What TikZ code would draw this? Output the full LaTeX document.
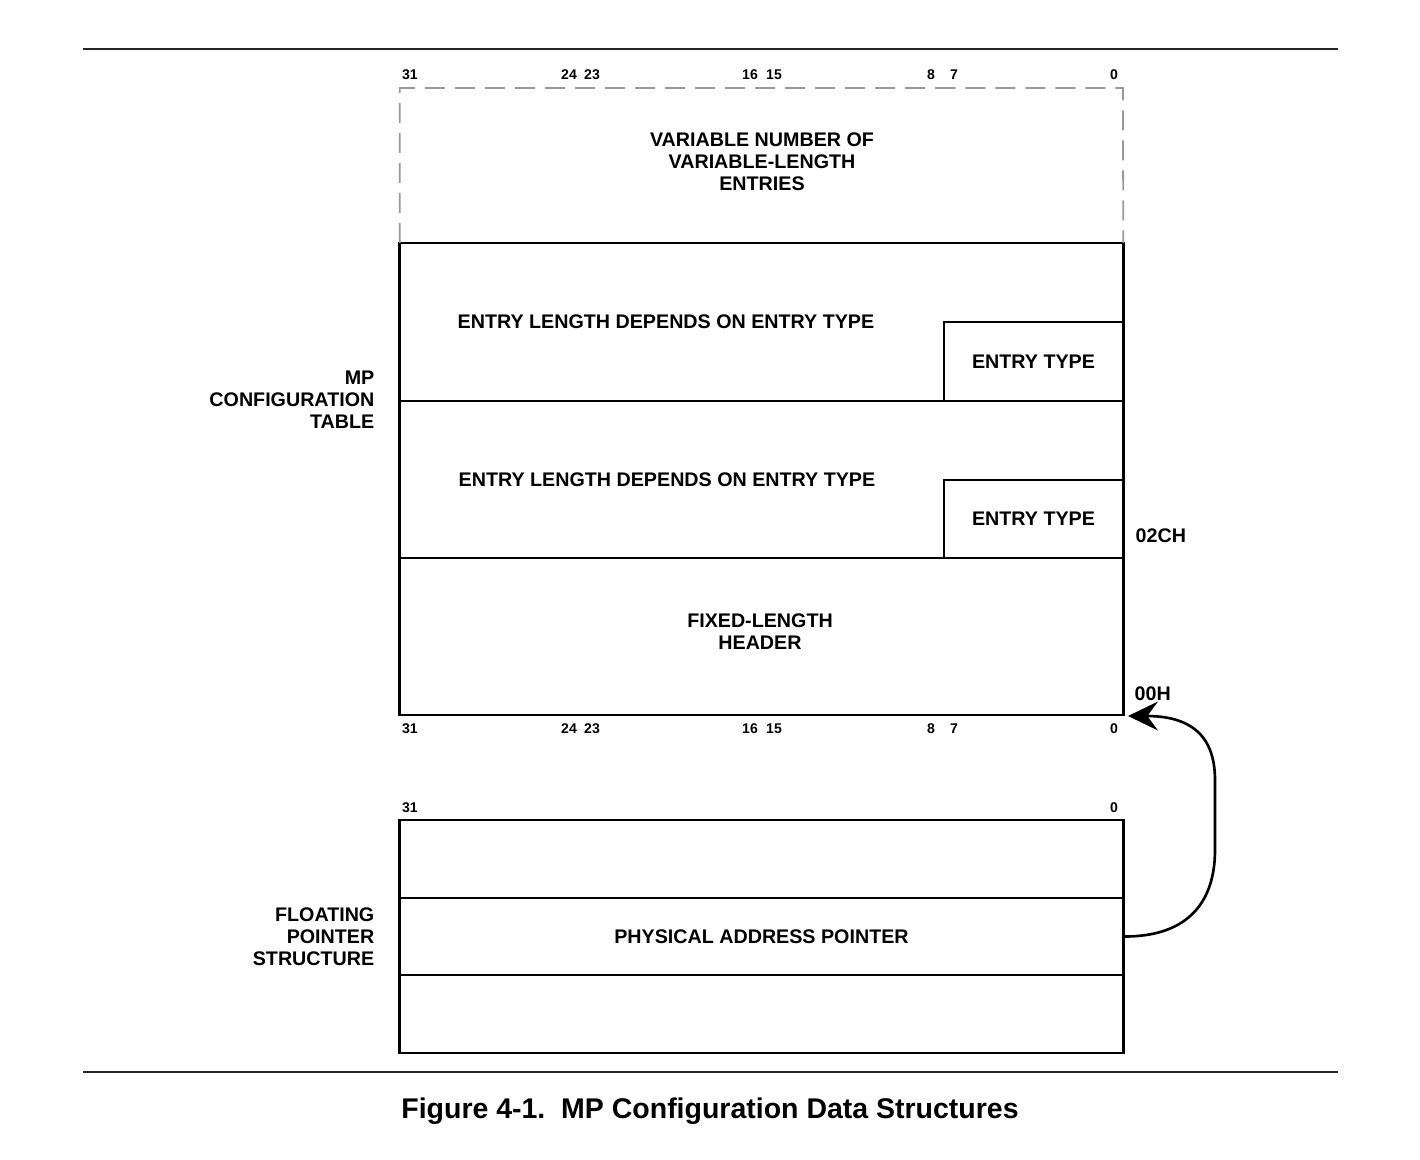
\documentclass[tikz,border=0pt]{standalone}
\usepackage{fontspec}
\setmainfont{Liberation Sans}
\usetikzlibrary{arrows.meta}
\usetikzlibrary{positioning}
\tikzset{
    field/.style={
        draw,
        rectangle,
        minimum width=7.23cm,
        inner sep=0pt,
        outer sep=0pt,
        line width=0.75pt
    },
    lbl/.style={
        font=\fontsize{5.6}{6.2}\selectfont\bfseries,
        align=center,
        inner sep=0pt
    },
    bitno/.style={
        font=\fontsize{4}{4.5}\selectfont\bfseries,
        inner sep=0pt
    }
}

\begin{document}
\begin{tikzpicture}[x=0.01cm, y=-0.01cm] % one unit = one pixel of the page
  \useasboundingbox (0,0) rectangle (1420,1160);
  \tikzset{
    dashbox/.style={
      draw=gray!80,
      line width=0.5pt,
      dash pattern=on 0.2cm off 0.1cm
    },
    rule/.style={
      draw=black!85,
      line width=0.6pt
    },
    ptr/.style={
      draw,
      line width=0.75pt,
      -{Stealth[length=8.5pt, width=8.2pt, inset=3pt]}
    }
  }

  % Rules above and below
  \draw[rule] (83,49) -- (1338,49);
  \draw[rule] (83,1072) -- (1338,1072);

  % MP configuration table
  \node[field, minimum height=1.58cm] (ent1) at (761.5,322) {};
  \node[field, minimum height=1.57cm] (ent2) at (761.5,479.5) {};
  \node[field, minimum height=1.57cm] (hdr) at (761.5,636.5) {};
  \draw[dashbox] (ent1.north west) |- (1123,88) -- (ent1.north east);

  \node[field, lbl, minimum width=1.79cm, minimum height=0.79cm] (type1) at (1033.5,361.5) {ENTRY TYPE};
  \node[field, lbl, minimum width=1.79cm, minimum height=0.78cm] (type2) at (1033.5,519) {ENTRY TYPE};

  \node[lbl] (var) at (762,162) {VARIABLE NUMBER OF\\VARIABLE-LENGTH\\ENTRIES};
  \node[lbl] (len1) at (666,322) {ENTRY LENGTH DEPENDS ON ENTRY TYPE};
  \node[lbl] (len2) at (667,480) {ENTRY LENGTH DEPENDS ON ENTRY TYPE};
  \node[lbl] (fixed) at (760,632) {FIXED-LENGTH\\HEADER};
  \node[lbl, anchor=east, align=right] (mpct) at (375,400) {MP\\CONFIGURATION\\TABLE};
  \node[lbl, anchor=west] (off2c) at (1135,536) {02CH};
  \node[lbl, anchor=west] (off0) at (1134,694) {00H};

  % Bit numbers
  \foreach \x/\b in {410/31, 569/24, 592/23, 750/16, 774/15, 931/8, 954/7, 1114/0} {
    \node[bitno] (tb\b) at (\x,75) {\b};
    \node[bitno] (bb\b) at (\x,729) {\b};
  }
  \node[bitno] (pb31) at (410,808) {31};
  \node[bitno] (pb0) at (1114,808) {0};

  % Floating pointer structure
  \node[field, minimum height=0.78cm] (fp1) at (761.5,859) {};
  \node[field, lbl, minimum height=0.77cm] (fp2) at (761.5,936.5) {PHYSICAL ADDRESS POINTER};
  \node[field, minimum height=0.78cm] (fp3) at (761.5,1014) {};
  \node[lbl, anchor=east, align=right] (fps) at (375,937) {FLOATING\\POINTER\\STRUCTURE};

  % Pointer to the table
  \coordinate (tip) at (1128,716);
  \draw[ptr] (fp2.east) .. controls (1190,937) and (1215,900) .. (1215,850)
    -- (1215,780) .. controls (1215,735) and (1190,716) .. (tip);

  % Caption
  \node[font=\fontsize{8.1}{9}\selectfont\bfseries] (cap) at (710,1111) {Figure 4-1.\ \ MP Configuration Data Structures};
\end{tikzpicture}
\end{document}
